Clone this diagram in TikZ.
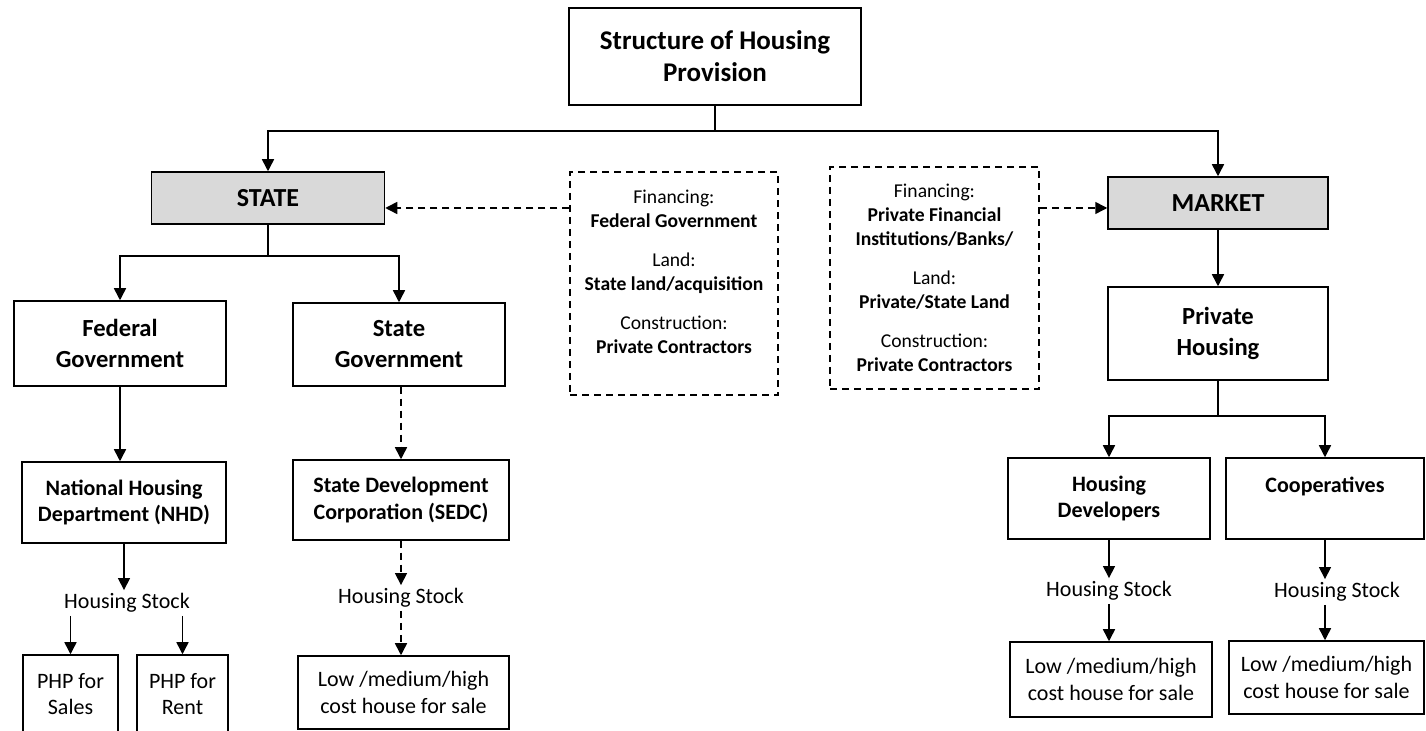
\documentclass[tikz,border=0pt]{standalone}
\usepackage{fontspec}
\setmainfont{Carlito}
\definecolor{boxgray}{RGB}{217,217,217}
\usetikzlibrary{arrows.meta, positioning, calc}

\tikzset{
  box/.style={draw, line width=0.75pt, align=center, inner sep=2pt, font=\bfseries\fontsize{11}{13.4}\selectfont},
  bigbox/.style={box, font=\bfseries\fontsize{12.3}{15.5}\selectfont},
  headbox/.style={box, fill=boxgray, font=\bfseries\fontsize{13}{15.5}\selectfont},
  costbox/.style={box, font=\fontsize{11}{13.4}\selectfont},
  dashbox/.style={draw, dash pattern=on 3.5pt off 2.5pt, line width=0.75pt, align=center, font=\fontsize{9.8}{12}\selectfont},
  stock/.style={inner sep=1.5pt, font=\fontsize{11}{13.4}\selectfont},
  link/.style={line width=0.75pt},
  arr/.style={link, -{Triangle[length=6pt,width=6pt]}},
  dasharr/.style={arr, dash pattern=on 3.5pt off 2.5pt},
}

\begin{document}
\begin{tikzpicture}[x=0.5pt, y=-0.5pt]
  \clip (0,0) rectangle (1426,731);

  % top level
  \node[box, font=\bfseries\fontsize{13.5}{16}\selectfont, minimum width=146pt, minimum height=48.5pt] (top) at (715,56.5) {Structure of Housing\\Provision};
  \node[headbox, minimum width=116.5pt, minimum height=26pt] (state) at (268,198) {STATE};
  \node[headbox, minimum width=110pt, minimum height=26pt] (market) at (1218,203) {MARKET};

  % inputs
  \node[dashbox, minimum width=104pt, minimum height=111.5pt] (finstate) at (674,283.5) {Financing:\\\textbf{Federal Government}\\[7.5pt]Land:\\\textbf{State land/acquisition}\\[7.5pt]Construction:\\\textbf{Private Contractors}\\\mbox{}};
  \node[dashbox, minimum width=104.5pt, minimum height=111pt] (finmarket) at (934.5,278) {Financing:\\\textbf{Private Financial}\\\textbf{Institutions/Banks/}\\[7.5pt]Land:\\\textbf{Private/State Land}\\[7.5pt]Construction:\\\textbf{Private Contractors}};

  % second level
  \node[bigbox, minimum width=106pt, minimum height=42.5pt] (fedgov) at (120,343.5) {Federal\\Government};
  \node[bigbox, minimum width=106pt, minimum height=41.5pt] (stategov) at (399,344.5) {State\\Government};
  \node[bigbox, minimum width=110pt, minimum height=46.5pt] (privhouse) at (1218,333.5) {Private\\Housing};

  % agencies
  \node[box, minimum width=102pt, minimum height=40.5pt] (nhd) at (124,502.5) {National Housing\\Department (NHD)};
  \node[box, minimum width=108pt, minimum height=40pt] (sedc) at (401,500) {State Development\\Corporation (SEDC)};
  \node[box, minimum width=101pt, minimum height=40.5pt] (devel) at (1109,498.5) {Housing\\Developers};
  \node[box, minimum width=99pt, minimum height=40.5pt] (coop) at (1325,498.5) {Cooperatives\\\mbox{}};

  % housing stock
  \node[stock] (stockA) at (127,603) {Housing Stock};
  \node[stock] (stockB) at (401,598) {Housing Stock};
  \node[stock] (stockC) at (1109,591) {Housing Stock};
  \node[stock] (stockD) at (1337,592) {Housing Stock};

  \node[costbox, minimum width=47.5pt, minimum height=39pt] (phpsale) at (70.5,694) {PHP for\\Sales};
  \node[costbox, minimum width=45.5pt, minimum height=39pt] (phprent) at (182.5,694) {PHP for\\Rent};
  \node[costbox, minimum width=105.5pt, minimum height=36.5pt] (costA) at (403.5,692.5) {Low /medium/high\\cost house for sale};
  \node[costbox, minimum width=101pt, minimum height=37.5pt] (costB) at (1111,679.5) {Low /medium/high\\cost house for sale};
  \node[costbox, minimum width=97.5pt, minimum height=36.5pt] (costC) at (1326.5,677.5) {Low /medium/high\\cost house for sale};

  % connectors
  \coordinate (topsplit) at (715,131);
  \draw[link] (top.south) -- (topsplit);
  \draw[arr] (topsplit) -| (state.north);
  \draw[arr] (topsplit) -| (market.north);

  \coordinate (statesplit) at (268,256);
  \draw[link] (state.south) -- (statesplit);
  \draw[arr] (statesplit) -| (fedgov.north);
  \draw[arr] (statesplit) -| (stategov.north);

  \draw[arr] (fedgov.south) -- (fedgov.south |- nhd.north);
  \draw[arr] (nhd.south) -- (nhd.south |- stockA.north);
  \draw[arr] (stockA.south -| phpsale.north) -- (phpsale.north);
  \draw[arr] (stockA.south -| phprent.north) -- (phprent.north);

  \draw[dasharr] (stategov.south -| sedc.north) -- (sedc.north);
  \draw[dasharr] (sedc.south) -- (stockB.north);
  \draw[dasharr] (stockB.south) -- (stockB.south |- costA.north);

  \coordinate (stateport) at ([yshift=-5pt]state.east);
  \coordinate (marketport) at ([yshift=-2.5pt]market.west);
  \draw[dasharr] (finstate.west |- stateport) -- (stateport);
  \draw[dasharr] (finmarket.east |- marketport) -- (marketport);

  \draw[arr] (market.south) -- (privhouse.north);
  \coordinate (privsplit) at (1218,416);
  \draw[link] (privhouse.south) -- (privsplit);
  \draw[arr] (privsplit) -| (devel.north);
  \draw[arr] (privsplit) -| (coop.north);

  \draw[arr] (devel.south) -- (devel.south |- stockC.north);
  \draw[arr] (stockC.south) -- (stockC.south |- costB.north);
  \draw[arr] (coop.south) -- (coop.south |- stockD.north);
  \draw[arr] (stockD.south -| coop.south) -- (costC.north -| coop.south);
\end{tikzpicture}
\end{document}
